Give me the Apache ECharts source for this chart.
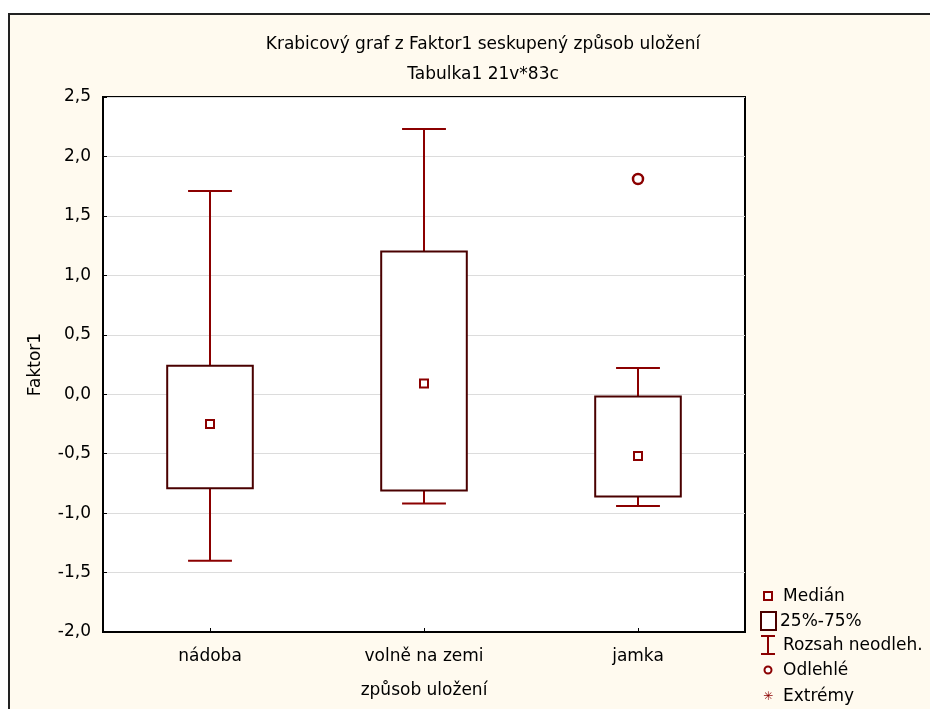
<!DOCTYPE html>
<html>
<head>
<meta charset="utf-8">
<style>
html,body{margin:0;padding:0;background:#ffffff;}
#chart{width:930px;height:709px;}
</style>
<script src="https://cdn.jsdelivr.net/npm/echarts@6/dist/echarts.min.js"></script>
</head>
<body>
<div id="chart"></div>
<script>
var categories = ['nádoba', 'volně na zemi', 'jamka'];
var whiskerLow = [-1.40, -0.92, -0.94];
var q1 = [-0.79, -0.81, -0.86];
var median = [-0.25, 0.09, -0.52];
var q3 = [0.24, 1.20, -0.02];
var whiskerHigh = [1.71, 2.23, 0.22];
var outliers = [[2, 1.81]];

var boxData = categories.map(function (c, i) {
  return [i, whiskerLow[i], q1[i], median[i], q3[i], whiskerHigh[i]];
});

var WHISK = '#8b0000';
var BOXC = '#4a0000';
var FONT = 'DejaVu Sans, Liberation Sans, Arial, sans-serif';

function renderBox(params, api) {
  var x = api.value(0);
  var pLow = api.coord([x, api.value(1)]);
  var pQ1 = api.coord([x, api.value(2)]);
  var pMed = api.coord([x, api.value(3)]);
  var pQ3 = api.coord([x, api.value(4)]);
  var pHigh = api.coord([x, api.value(5)]);
  var bw = api.size([1, 0])[0];
  var boxW = bw * 0.4;
  var capW = bw * 0.205;
  var cx = pMed[0];
  return {
    type: 'group',
    children: [
      { type: 'line', shape: { x1: cx, y1: pQ3[1], x2: cx, y2: pHigh[1] }, style: { stroke: WHISK, lineWidth: 2 } },
      { type: 'line', shape: { x1: cx, y1: pQ1[1], x2: cx, y2: pLow[1] }, style: { stroke: WHISK, lineWidth: 2 } },
      { type: 'line', shape: { x1: cx - capW / 2, y1: pHigh[1], x2: cx + capW / 2, y2: pHigh[1] }, style: { stroke: WHISK, lineWidth: 2 } },
      { type: 'line', shape: { x1: cx - capW / 2, y1: pLow[1], x2: cx + capW / 2, y2: pLow[1] }, style: { stroke: WHISK, lineWidth: 2 } },
      { type: 'rect', shape: { x: cx - boxW / 2, y: pQ3[1], width: boxW, height: pQ1[1] - pQ3[1] }, style: { fill: '#ffffff', stroke: BOXC, lineWidth: 2 } },
      { type: 'rect', shape: { x: cx - 4, y: pMed[1] - 4, width: 8, height: 8 }, style: { fill: '#ffffff', stroke: WHISK, lineWidth: 2 } }
    ]
  };
}

var chart = echarts.init(document.getElementById('chart'), null, { renderer: 'canvas' });

var legendFont = '17px ' + FONT;
chart.setOption({
  backgroundColor: '#ffffff',
  animation: false,
  title: [
    { text: 'Krabicový graf z Faktor1 seskupený způsob uložení', left: 478, top: 31, textAlign: 'center',
      textStyle: { fontFamily: FONT, fontSize: 17, fontWeight: 'normal', color: '#000' } },
    { text: 'Tabulka1 21v*83c', left: 478, top: 61, textAlign: 'center',
      textStyle: { fontFamily: FONT, fontSize: 17, fontWeight: 'normal', color: '#000' } }
  ],
  grid: { left: 103, right: 185, top: 97, bottom: 77, containLabel: false, outerBoundsMode: 'none',
    show: true, backgroundColor: '#ffffff', borderColor: '#000', borderWidth: 2 },
  xAxis: {
    type: 'category', data: categories, boundaryGap: true,
    name: 'způsob uložení', nameLocation: 'middle', nameGap: 50,
    nameTextStyle: { fontFamily: FONT, fontSize: 17, color: '#000' },
    axisLine: { show: true, onZero: false, lineStyle: { color: '#000', width: 2 } },
    axisTick: { show: true, inside: true, alignWithLabel: true, length: 4, lineStyle: { color: '#000' } },
    axisLabel: { fontFamily: FONT, fontSize: 17, color: '#000', margin: 16 },
    splitLine: { show: false }
  },
  yAxis: {
    type: 'value', min: -2.0, max: 2.5, interval: 0.5,
    name: 'Faktor1', nameLocation: 'middle', nameGap: 59, nameRotate: 90,
    nameTextStyle: { fontFamily: FONT, fontSize: 17, color: '#000' },
    axisLine: { show: true, lineStyle: { color: '#000', width: 2 } },
    axisTick: { show: true, inside: true, length: 4, lineStyle: { color: '#000' } },
    axisLabel: { fontFamily: FONT, fontSize: 17, color: '#000', margin: 12,
      formatter: function (v) { return v.toFixed(1).replace('.', ','); } },
    splitLine: { show: true, lineStyle: { color: '#dcdcdc', width: 1 } }
  },
  graphic: [
    { type: 'rect', z: -100, silent: true, shape: { x: 9, y: 14, width: 940, height: 720 },
      style: { fill: '#fffaef', stroke: '#222', lineWidth: 2 } },
    { type: 'rect', shape: { x: 764, y: 592, width: 8, height: 8 }, style: { fill: '#fff', stroke: WHISK, lineWidth: 2 } },
    { type: 'text', x: 783, y: 597, style: { text: 'Medián', font: legendFont, fill: '#000', textVerticalAlign: 'middle' } },
    { type: 'rect', shape: { x: 761, y: 612, width: 15, height: 18 }, style: { fill: '#fff', stroke: BOXC, lineWidth: 2 } },
    { type: 'text', x: 780, y: 622, style: { text: '25%-75%', font: legendFont, fill: '#000', textVerticalAlign: 'middle' } },
    { type: 'line', shape: { x1: 768, y1: 636, x2: 768, y2: 654 }, style: { stroke: WHISK, lineWidth: 2 } },
    { type: 'line', shape: { x1: 761, y1: 636, x2: 775, y2: 636 }, style: { stroke: WHISK, lineWidth: 2 } },
    { type: 'line', shape: { x1: 761, y1: 654, x2: 775, y2: 654 }, style: { stroke: WHISK, lineWidth: 2 } },
    { type: 'text', x: 783, y: 646, style: { text: 'Rozsah neodleh.', font: legendFont, fill: '#000', textVerticalAlign: 'middle' } },
    { type: 'circle', shape: { cx: 768, cy: 670, r: 3.5 }, style: { fill: '#fff', stroke: WHISK, lineWidth: 2 } },
    { type: 'text', x: 783, y: 671, style: { text: 'Odlehlé', font: legendFont, fill: '#000', textVerticalAlign: 'middle' } },
    { type: 'text', x: 768, y: 697, style: { text: '✳', font: '12px ' + FONT, fill: WHISK, textAlign: 'center', textVerticalAlign: 'middle' } },
    { type: 'text', x: 783, y: 697, style: { text: 'Extrémy', font: legendFont, fill: '#000', textVerticalAlign: 'middle' } }
  ],
  series: [
    { type: 'custom', renderItem: renderBox, data: boxData, encode: { x: 0, y: [1, 2, 3, 4, 5] }, z: 3 },
    { type: 'scatter', data: outliers, symbol: 'circle', symbolSize: 10, z: 4,
      itemStyle: { color: '#fff', borderColor: WHISK, borderWidth: 2.5, opacity: 1 } }
  ]
});
</script>
</body>
</html>
